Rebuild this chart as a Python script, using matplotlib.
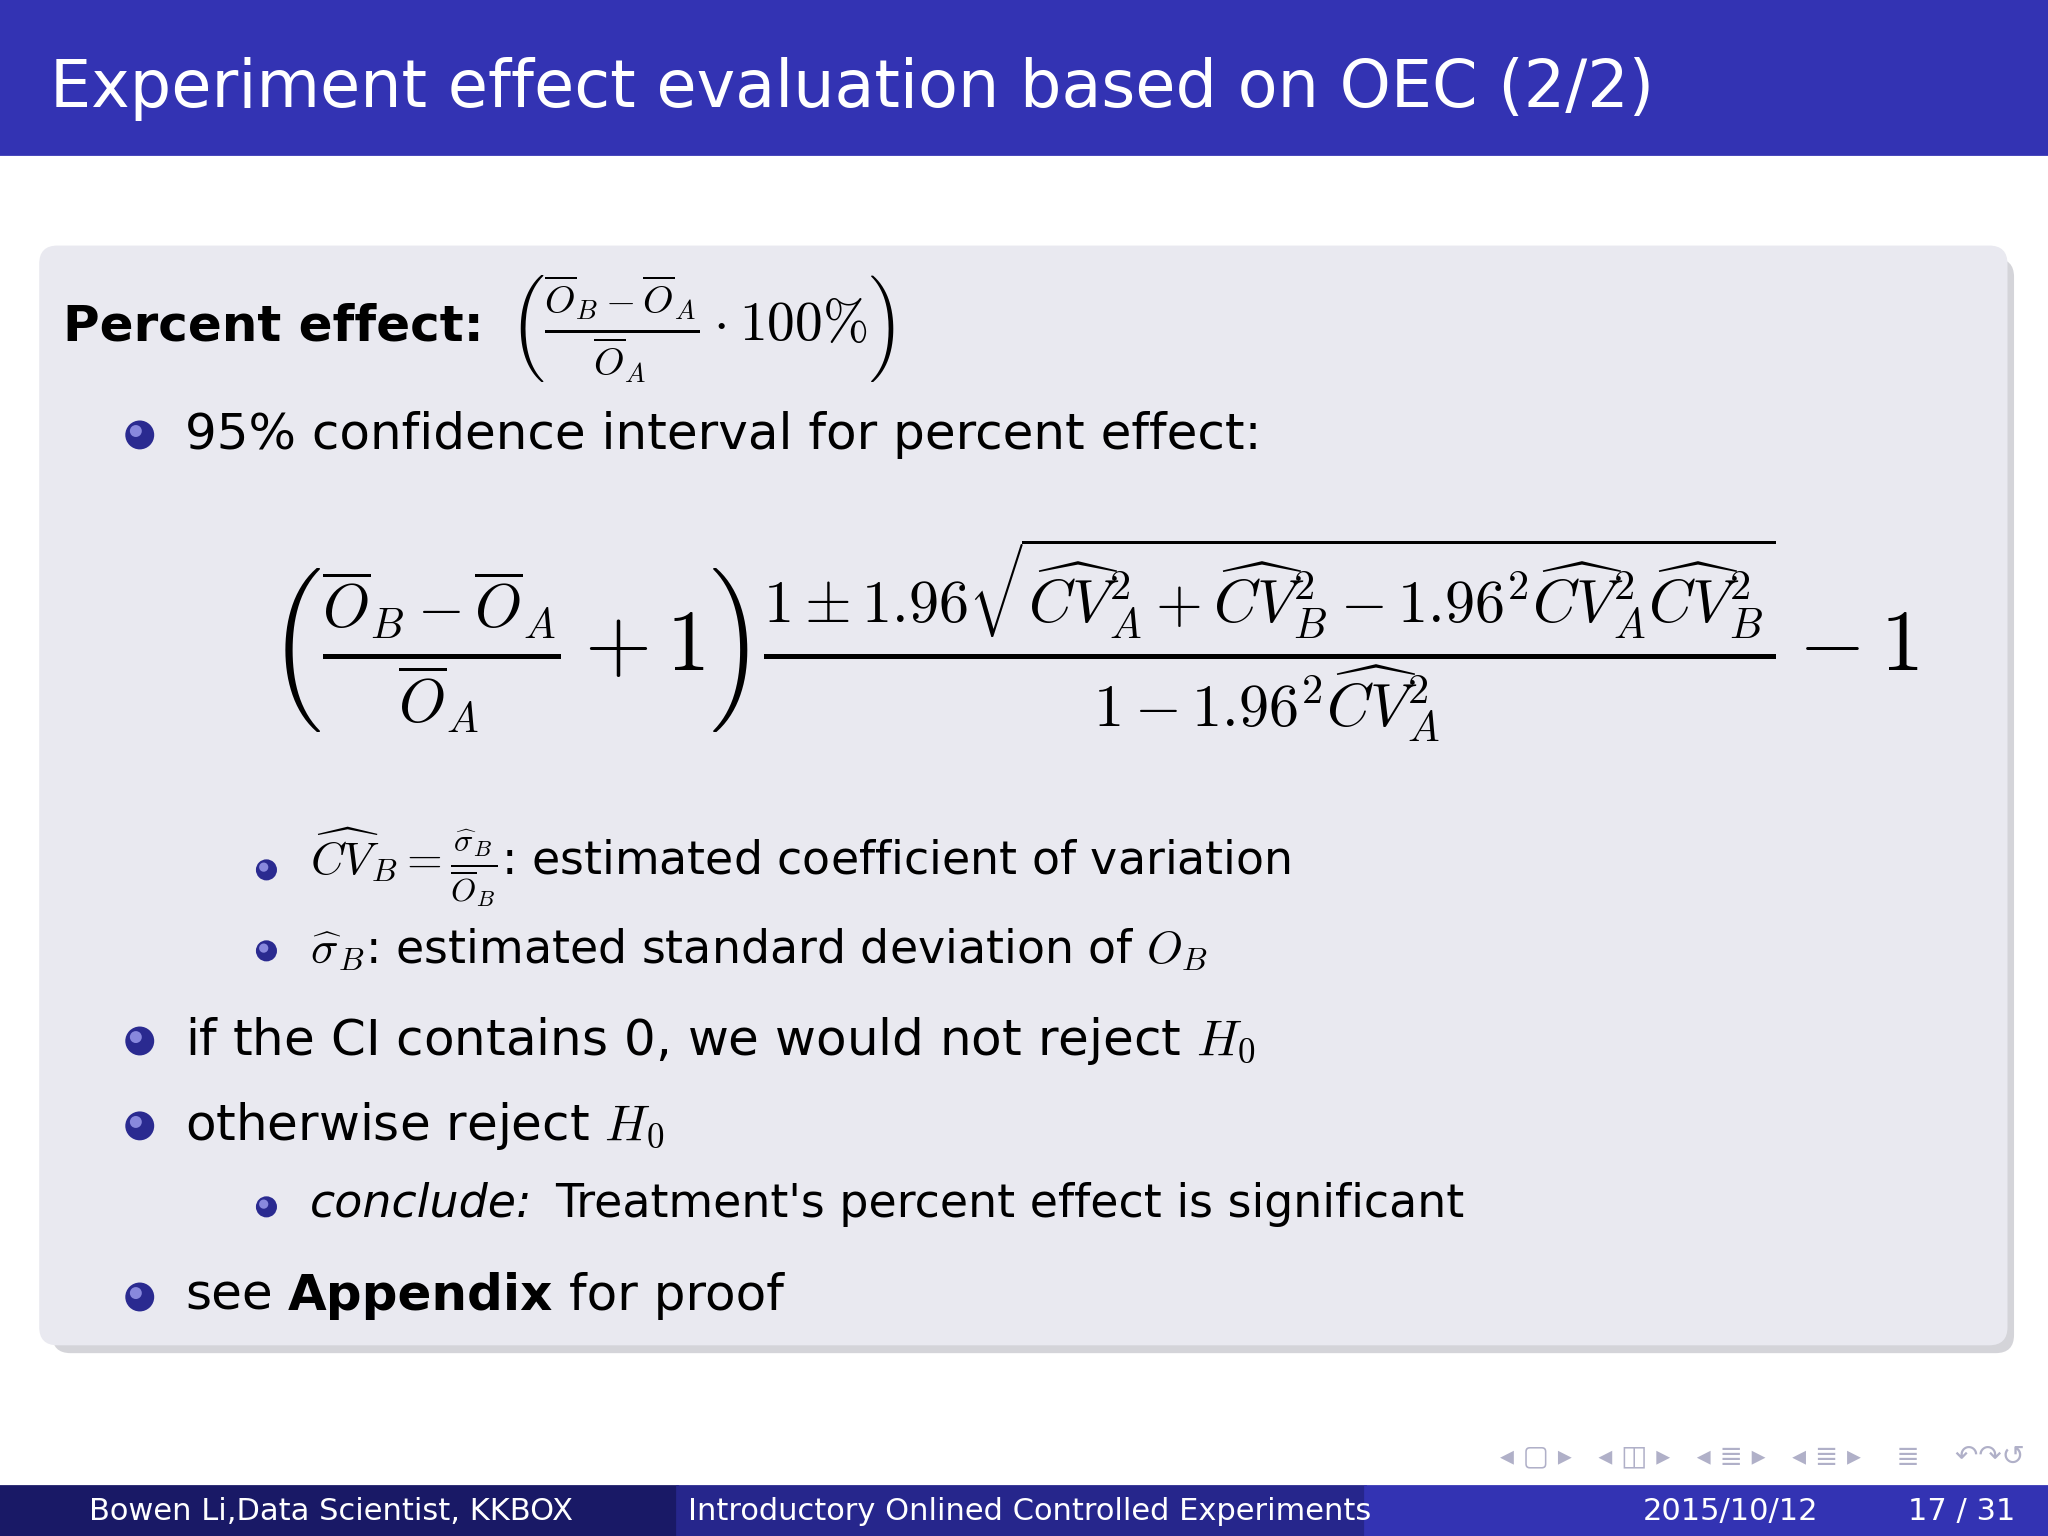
import matplotlib.pyplot as plt
from matplotlib.patches import FancyBboxPatch, Rectangle, Circle

plt.rcParams['mathtext.fontset'] = 'cm'
plt.rcParams['font.family'] = ['DejaVu Sans']

W, H = 1568, 1176
BLUE = '#3333b3'

title = 'Experiment effect evaluation based on OEC (2/2)'
footer = ['Bowen Li,Data Scientist, KKBOX', 'Introductory Onlined Controlled Experiments', '2015/10/12', '17 / 31']

fig = plt.figure(figsize=(10.24, 7.68), dpi=200)
ax = fig.add_axes([0, 0, 1, 1])
ax.set_xlim(0, W)
ax.set_ylim(H, 0)
ax.axis('off')

# title bar
ax.add_patch(Rectangle((0, 0), W, 118, color=BLUE))
ax.text(38, 68, title, color='white', fontsize=23.5, va='center')

# block with shadow
ax.add_patch(FancyBboxPatch((40, 198), 1502, 838, boxstyle='round,pad=0,rounding_size=14',
                            color='#b8b8c0', alpha=0.6, lw=0))
ax.add_patch(FancyBboxPatch((30, 188), 1507, 842, boxstyle='round,pad=0,rounding_size=14',
                            color='#e9e9f0', lw=0))

def bullet(x, y, r):
    ax.add_patch(Circle((x, y), r, color='#2a2a90', zorder=3))
    ax.add_patch(Circle((x - r * 0.3, y - r * 0.3), r * 0.35, color='#8888dd', zorder=4))

fs = 18
ax.text(48, 250, 'Percent effect:', fontsize=fs, weight='bold', va='center')
ax.text(390, 252, r'$\left(\frac{\overline{O}_B-\overline{O}_A}{\overline{O}_A}\cdot 100\%\right)$',
        fontsize=20, va='center')

bullet(107, 333, 10)
ax.text(142, 333, '95% confidence interval for percent effect:', fontsize=fs, va='center')

ax.text(205, 490,
        r'$\left(\frac{\overline{O}_B-\overline{O}_A}{\overline{O}_A}+1\right)'
        r'\frac{1\pm 1.96\sqrt{\widehat{CV}_A^2+\widehat{CV}_B^2-1.96^2\widehat{CV}_A^2\widehat{CV}_B^2}}'
        r'{1-1.96^2\widehat{CV}_A^2}-1$',
        fontsize=31, va='center')

bullet(204, 666, 7)
ax.text(237, 664, r'$\widehat{CV}_B=\frac{\widehat{\sigma}_B}{\overline{O}_B}$: estimated coefficient of variation',
        fontsize=16.5, va='center')
bullet(204, 728, 7)
ax.text(237, 727, r'$\widehat{\sigma}_B$: estimated standard deviation of $O_B$', fontsize=16.5, va='center')

bullet(107, 797, 10)
ax.text(142, 797, r'if the CI contains 0, we would not reject $H_0$', fontsize=fs, va='center')
bullet(107, 862, 10)
ax.text(142, 862, r'otherwise reject $H_0$', fontsize=fs, va='center')
bullet(204, 924, 7)
ax.text(237, 922, "conclude:", fontsize=16.5, style='italic', va='center')
ax.text(425, 922, "Treatment's percent effect is significant", fontsize=16.5, va='center')
bullet(107, 993, 10)
ax.text(142, 992, 'see', fontsize=fs, va='center')
ax.text(220, 992, 'Appendix', fontsize=fs, weight='bold', va='center')
ax.text(436, 992, 'for proof', fontsize=fs, va='center')

# navigation symbols
ax.text(1550, 1115, '◂ ▢ ▸   ◂ ◫ ▸   ◂ ≣ ▸   ◂ ≣ ▸    ≣    ↶↷↺', fontsize=10, color='#b0b0c8',
        ha='right', va='center')

# footer
ax.add_patch(Rectangle((0, 1138), 518, 38, color='#191966'))
ax.add_patch(Rectangle((518, 1138), 527, 38, color='#26268c'))
ax.add_patch(Rectangle((1045, 1138), 523, 38, color=BLUE))
ax.text(68, 1157, footer[0], color='white', fontsize=11, va='center')
ax.text(527, 1157, footer[1], color='white', fontsize=11, va='center')
ax.text(1325, 1157, footer[2], color='white', fontsize=11, ha='center', va='center')
ax.text(1502, 1157, footer[3], color='white', fontsize=11, ha='center', va='center')

fig.savefig('out.png', dpi=200)
